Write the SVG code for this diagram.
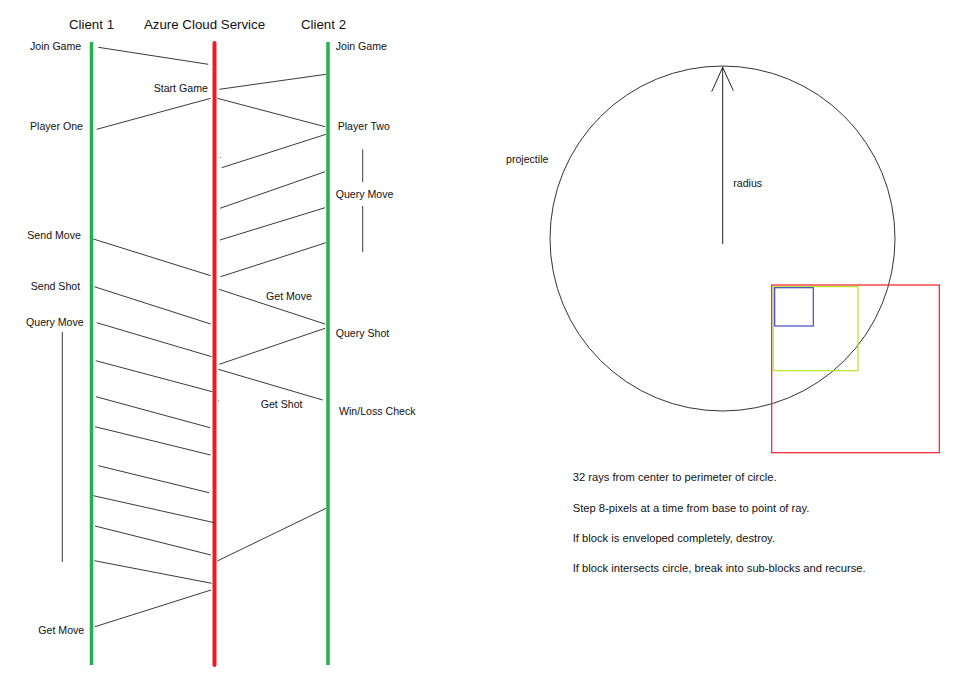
<svg xmlns="http://www.w3.org/2000/svg" width="975" height="678" viewBox="0 0 975 678">
<style>
text{font-family:"Liberation Sans",Arial,sans-serif;fill:#111;}
.t{font-size:13.3px;}
.l{font-size:10.6px;}
.n{font-size:11.2px;}
.m{stroke:#3a3a3a;stroke-width:1;fill:none;}
.g{stroke:#22b14c;stroke-width:3.5;}
.r{stroke:#ed1c24;stroke-width:4;}
</style>
<rect width="975" height="678" fill="#fff"/>
<g id="client1">
<text class="t" x="91.5" y="29" text-anchor="middle">Client 1</text>
<line class="g" x1="91.5" y1="42" x2="91.5" y2="665"/>
</g>
<g id="azure">
<text class="t" x="204.5" y="29" text-anchor="middle">Azure Cloud Service</text>
<line class="r" x1="214.5" y1="43" x2="214.5" y2="665" stroke-linecap="round"/>
</g>
<g id="client2">
<text class="t" x="323.5" y="29" text-anchor="middle">Client 2</text>
<line class="g" x1="328" y1="42" x2="328" y2="665"/>
</g>
<g id="connectors" class="m">
<line x1="98.3" y1="47.3" x2="208.3" y2="64.3"/>
<line x1="219.3" y1="89.3" x2="326" y2="74.3"/>
<line x1="96.7" y1="129.3" x2="210.7" y2="98.3"/>
<line x1="217.3" y1="98.3" x2="325" y2="126.7"/>
<line x1="326" y1="134.3" x2="221.7" y2="167.7"/>
<line x1="220" y1="208.3" x2="325" y2="171.7"/>
<line x1="220" y1="240" x2="325" y2="207.7"/>
<line x1="220.7" y1="276.7" x2="326" y2="242.7"/>
<line x1="93.3" y1="239" x2="210.7" y2="275.7"/>
<line x1="94.3" y1="286.7" x2="210.7" y2="324"/>
<line x1="219" y1="289.3" x2="325" y2="324"/>
<line x1="96.7" y1="322.7" x2="211.7" y2="356.7"/>
<line x1="219.3" y1="364.3" x2="325" y2="328.3"/>
<line x1="218.3" y1="369.3" x2="322.7" y2="400"/>
<line x1="95.7" y1="360.7" x2="212.3" y2="391.7"/>
<line x1="96" y1="396.7" x2="210" y2="427.7"/>
<line x1="95" y1="426.7" x2="210.7" y2="455"/>
<line x1="98.3" y1="465.7" x2="209" y2="492.7"/>
<line x1="93.3" y1="495.7" x2="214.3" y2="522.7"/>
<line x1="95" y1="526" x2="211" y2="555"/>
<line x1="94.3" y1="560.7" x2="211.7" y2="583.3"/>
<line x1="95" y1="626.7" x2="211" y2="590"/>
<line x1="217.3" y1="561" x2="326" y2="508.3"/>
<line x1="362.7" y1="149.3" x2="362.7" y2="182"/>
<line x1="362.7" y1="206" x2="362.7" y2="252"/>
<line x1="62.3" y1="332" x2="62.3" y2="562"/>
<line x1="220" y1="157" x2="220.8" y2="157.6"/>
<line x1="218" y1="400.5" x2="218.8" y2="401"/>
</g>
<g id="labels" class="l">
<text x="30" y="50">Join Game</text>
<text x="335.7" y="50">Join Game</text>
<text x="153.7" y="92">Start Game</text>
<text x="30" y="130">Player One</text>
<text x="337.7" y="130">Player Two</text>
<text x="335.7" y="198">Query Move</text>
<text x="27.3" y="238.5">Send Move</text>
<text x="30.7" y="290">Send Shot</text>
<text x="266" y="299.5">Get Move</text>
<text x="26" y="326">Query Move</text>
<text x="335.7" y="336.5">Query Shot</text>
<text x="260.7" y="407.5">Get Shot</text>
<text x="339" y="415">Win/Loss Check</text>
<text x="38.3" y="634">Get Move</text>
</g>
<g id="projectile">
<circle cx="722.5" cy="238.5" r="172.5" fill="none" stroke="#333" stroke-width="1"/>
<line x1="722.7" y1="244" x2="722.7" y2="66.5" stroke="#222" stroke-width="1"/>
<polyline points="711.7,91.7 722.7,67.3 733.3,90.7" fill="none" stroke="#222" stroke-width="1"/>
<text class="l" x="506" y="162.5">projectile</text>
<text class="l" x="733.3" y="186.7">radius</text>
</g>
<g id="blocks" fill="none" stroke-width="1.2">
<rect x="771.7" y="285" width="167.6" height="167.7" stroke="#ed1c24"/>
<rect x="773.3" y="286.7" width="84.7" height="84" stroke="#b5e61d"/>
<rect x="774.7" y="287.7" width="38.6" height="38.3" stroke="#3f48cc"/>
</g>
<g id="notes" class="n">
<text x="572.7" y="481">32 rays from center to perimeter of circle.</text>
<text x="572.7" y="511.7">Step 8-pixels at a time from base to point of ray.</text>
<text x="572.7" y="541.7">If block is enveloped completely, destroy.</text>
<text x="572.7" y="571.7">If block intersects circle, break into sub-blocks and recurse.</text>
</g>
</svg>
